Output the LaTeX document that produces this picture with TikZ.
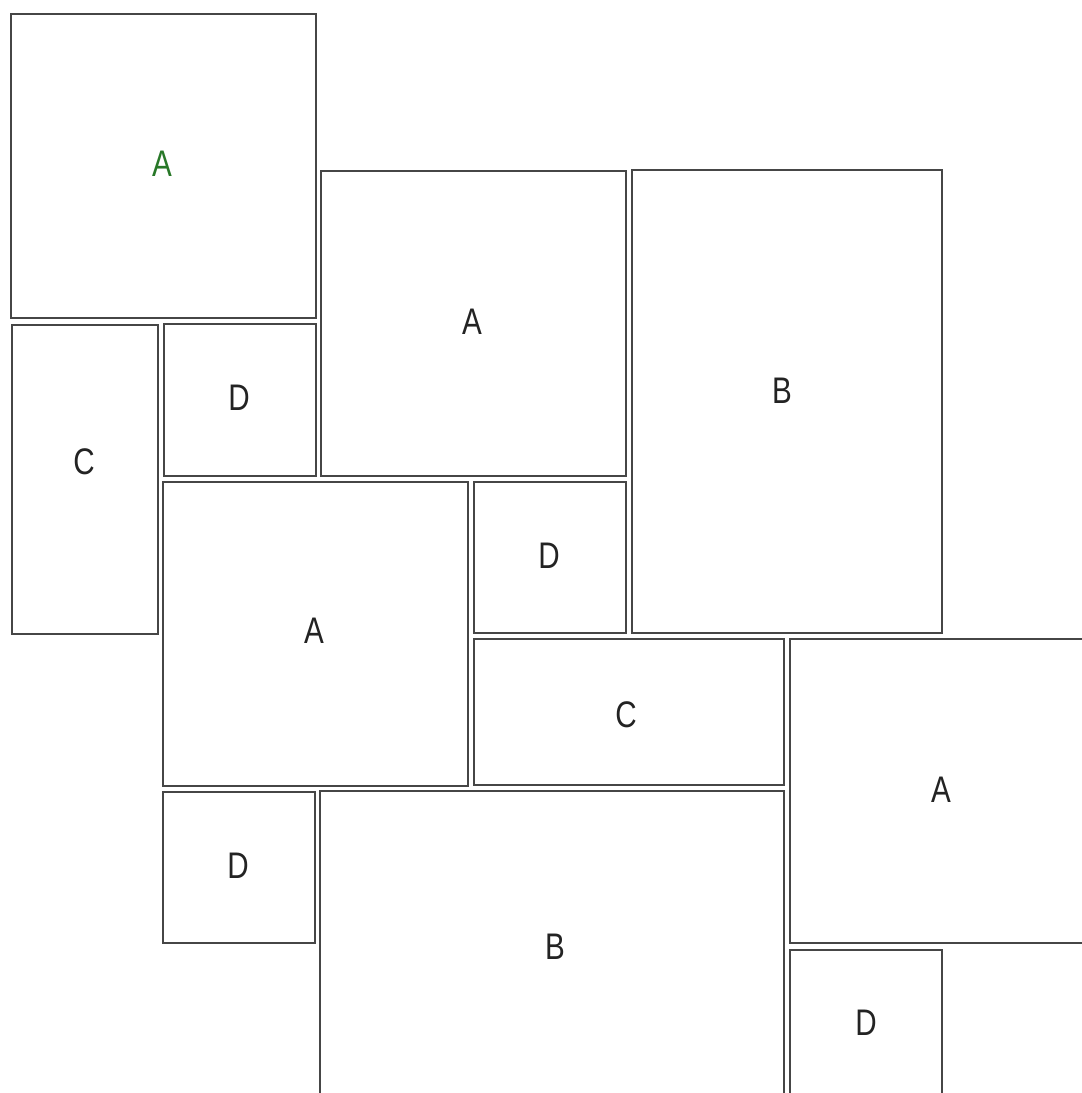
\documentclass[tikz,border=0pt]{standalone}
\usepackage{fontspec}
\setmainfont{Liberation Sans}[FakeStretch=0.8]

\definecolor{edgegray}{RGB}{70,70,70}
\definecolor{lettergreen}{RGB}{40,120,40}
\definecolor{lettergray}{RGB}{35,35,35}

\tikzset{
  tile/.style={draw=edgegray, line width=0.6pt},
  lettr/.style={inner sep=0pt, text=lettergray, font=\fontsize{18.5}{20}\selectfont},
}

\begin{document}
\begin{tikzpicture}[x=0.5pt,y=-0.5pt]

% ---------- Rahmen (Pixelmaße der Vorlage) ----------
\def\picW{1082}
\def\picH{1093}
\useasboundingbox (0,0) rectangle (\picW,\picH);
\clip (0,0) rectangle (\picW,\picH);

% ---------- Startkachel (gruen) ----------
\draw[tile] (11,14) rectangle (316,318);
\node[lettr, text=lettergreen] (aStart) at (162,164) {A};

% ---------- uebrige Kacheln ----------
\foreach \xa/\ya/\xb/\yb in {
    12/325/158/634,
    164/324/316/476,
    321/171/626/476,
    632/170/942/633,
    163/482/468/786,
    474/482/626/633,
    474/639/784/785,
    790/639/1096/943,
    163/792/315/943,
    320/791/784/1100,
    790/950/942/1100}
{
  \draw[tile] (\xa,\ya) rectangle (\xb,\yb);
}

% ---------- Beschriftungen ----------
\node[lettr] (cLeft)  at (84,462)  {C};
\node[lettr] (dTop)   at (239,398) {D};
\node[lettr] (aTop)   at (472,322) {A};
\node[lettr] (bTop)   at (782,391) {B};
\node[lettr] (aMid)   at (314,631) {A};
\node[lettr] (dMid)   at (549,556) {D};
\node[lettr] (cMid)   at (626,715) {C};
\node[lettr] (aRight) at (941,790) {A};
\node[lettr] (dLow)   at (238,866) {D};
\node[lettr] (bLow)   at (555,947) {B};
\node[lettr] (dRight) at (866,1023) {D};

\end{tikzpicture}
\end{document}
